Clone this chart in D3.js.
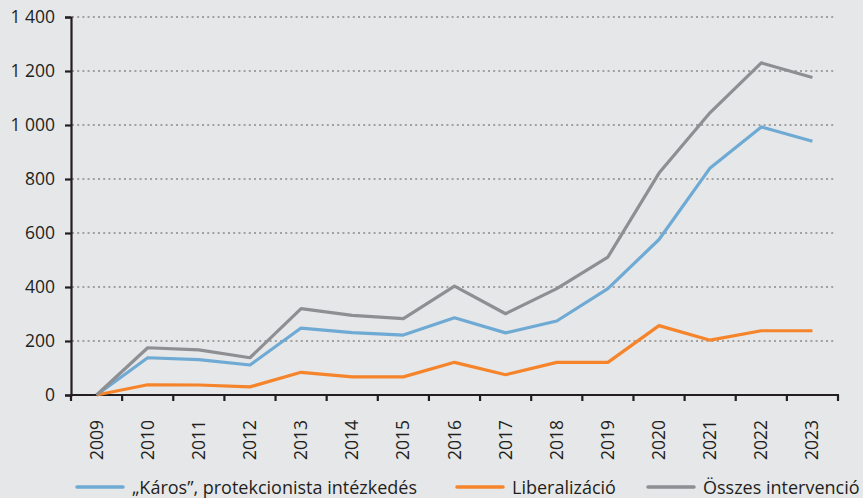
<!DOCTYPE html>
<html>
<head>
<meta charset="utf-8">
<script src="https://cdn.jsdelivr.net/npm/d3@7"></script>
<style>
  body { margin: 0; background: #e6e7e9; }
  svg { display: block; font-family: "Open Sans", sans-serif; }
</style>
</head>
<body>
<div id="vis"></div>
<script>
// data
var years = ["2009","2010","2011","2012","2013","2014","2015","2016","2017","2018","2019","2020","2021","2022","2023"];
var karos = [0, 138, 131, 111, 248, 231, 222, 286, 230, 274, 394, 576, 841, 993, 940];
var liberalizacio = [0, 38, 37, 30, 84, 67, 67, 121, 75, 121, 121, 257, 203, 238, 238];
var osszes = [0, 175, 167, 138, 320, 295, 283, 403, 301, 394, 511, 822, 1046, 1230, 1176];
var yTicks = [0, 200, 400, 600, 800, 1000, 1200, 1400];
var seriesNames = ["\u201EK\u00E1ros\u201D, protekcionista int\u00E9zked\u00E9s", "Liberaliz\u00E1ci\u00F3", "\u00D6sszes intervenci\u00F3"];
var seriesColors = ["#6eaad3", "#f5842a", "#8e8f92"];

var width = 863, height = 498;

var svg = d3.select("#vis")
  .append("svg")
  .attr("width", width)
  .attr("height", height);

svg.append("rect")
  .attr("width", width)
  .attr("height", height)
  .attr("fill", "#e6e7e9");

var x = d3.scaleBand().domain(years).range([71, 838]);
var y = d3.scaleLinear().domain([0, 1400]).range([395, 17]);

var fmt = function(v) { return d3.format(",")(v).replace(/,/g, " "); };

// dotted gridlines
svg.append("g")
  .selectAll("line")
  .data(yTicks.slice(1))
  .enter().append("line")
  .attr("x1", 72)
  .attr("x2", 835)
  .attr("y1", function(d) { return y(d); })
  .attr("y2", function(d) { return y(d); })
  .attr("stroke", "#8a8a8a")
  .attr("stroke-width", 1.3)
  .attr("stroke-dasharray", "2,3.2");

// y axis
var yAxis = svg.append("g")
  .attr("transform", "translate(71,0)")
  .call(d3.axisLeft(y).tickValues(yTicks).tickFormat(fmt).tickSize(6).tickPadding(10));
yAxis.select(".domain").attr("stroke", "#231f20").attr("stroke-width", 2.2);
yAxis.selectAll(".tick line").attr("stroke", "#231f20").attr("stroke-width", 2.2);
yAxis.selectAll("text")
  .attr("fill", "#231f20")
  .style("font-size", "17.5px")
  .attr("font-family", "Open Sans");

// x axis, ticks between categories
var xAxis = svg.append("g")
  .attr("transform", "translate(0,395)");
xAxis.append("line")
  .attr("x1", 70).attr("x2", 839)
  .attr("stroke", "#231f20").attr("stroke-width", 2.2);
xAxis.selectAll(".xt")
  .data(years.concat(["end"]))
  .enter().append("line")
  .attr("class", "xt")
  .attr("x1", function(d, i) { return i < years.length ? x(d) : x.range()[1]; })
  .attr("x2", function(d, i) { return i < years.length ? x(d) : x.range()[1]; })
  .attr("y1", 0).attr("y2", 6)
  .attr("stroke", "#231f20").attr("stroke-width", 2.2);
xAxis.selectAll(".xl")
  .data(years)
  .enter().append("text")
  .attr("class", "xl")
  .attr("transform", function(d) { return "translate(" + (x(d) + x.bandwidth() / 2 + 6) + ",25) rotate(-90)"; })
  .attr("text-anchor", "end")
  .attr("fill", "#231f20")
  .style("font-size", "17.5px")
  .text(function(d) { return d; });

// lines
var line = d3.line()
  .x(function(d, i) { return x(years[i]) + x.bandwidth() / 2; })
  .y(function(d) { return y(d); });

[karos, liberalizacio, osszes].forEach(function(s, i) {
  svg.append("path")
    .datum(s)
    .attr("fill", "none")
    .attr("stroke", seriesColors[i])
    .attr("stroke-width", 3.2)
    .attr("stroke-linejoin", "round")
    .attr("d", line);
});

// legend
var legendX = [77, 457, 648];
var legend = svg.append("g").attr("transform", "translate(0,487)");
seriesNames.forEach(function(name, i) {
  legend.append("line")
    .attr("x1", legendX[i]).attr("x2", legendX[i] + 46)
    .attr("stroke", seriesColors[i])
    .attr("stroke-width", 3.5)
    .attr("stroke-linecap", "round");
  legend.append("text")
    .attr("x", legendX[i] + 55)
    .attr("y", 6.5)
    .attr("fill", "#231f20")
    .style("font-size", "18px")
    .text(name);
});
</script>
</body>
</html>
